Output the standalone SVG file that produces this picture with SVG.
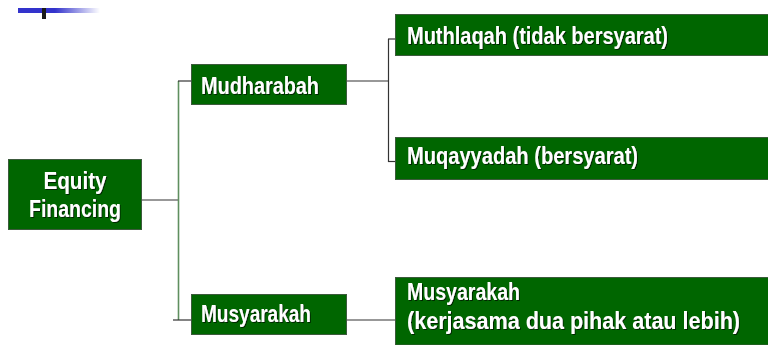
<svg xmlns="http://www.w3.org/2000/svg" width="768" height="345" viewBox="0 0 768 345">
  <defs>
    <linearGradient id="barFade" x1="0" y1="0" x2="1" y2="0">
      <stop offset="0" stop-color="#3333cc"/>
      <stop offset="0.45" stop-color="#3333cc"/>
      <stop offset="1" stop-color="#3333cc" stop-opacity="0"/>
    </linearGradient>
    <filter id="shade" x="-5%" y="-20%" width="110%" height="140%">
      <feDropShadow dx="1" dy="1" stdDeviation="0.3" flood-color="#001a00" flood-opacity="0.9"/>
    </filter>
  </defs>
  <style>
    .box { fill: #006600; stroke: #3c5a3c; stroke-width: 1; }
    .lbl { font-family: "Liberation Sans", Arial, sans-serif; font-weight: bold; font-size: 24px; fill: #ffffff; filter: url(#shade); }
    .h { stroke: #333333; stroke-width: 1.2; fill: none; }
    .v { stroke: #5f8f5f; stroke-width: 1.6; fill: none; }
  </style>

  <rect width="768" height="345" fill="#ffffff"/>

  <!-- title ornament -->
  <rect x="18" y="8" width="82" height="5" fill="url(#barFade)"/>
  <rect x="42" y="8" width="4" height="11" fill="#1a1a1a"/>

  <g id="connectors">
    <line class="h" x1="142" y1="200" x2="179" y2="200"/>
    <line class="v" x1="178.5" y1="81" x2="178.5" y2="320"/>
    <line class="h" x1="178" y1="81" x2="191" y2="81"/>
    <line class="h" x1="173" y1="320" x2="191" y2="320"/>
    <line class="h" x1="347" y1="81" x2="389" y2="81"/>
    <line class="h" x1="388.5" y1="39" x2="388.5" y2="162"/>
    <line class="h" x1="388" y1="39" x2="396" y2="39"/>
    <line class="h" x1="388" y1="161.5" x2="396" y2="161.5"/>
    <line class="h" x1="347" y1="320" x2="396" y2="320"/>
  </g>

  <g id="equity-financing">
    <rect class="box" x="8.5" y="159.5" width="133" height="70"/>
    <text class="lbl" x="75" y="189" text-anchor="middle" textLength="63" lengthAdjust="spacingAndGlyphs">Equity</text>
    <text class="lbl" x="75" y="217" text-anchor="middle" textLength="92" lengthAdjust="spacingAndGlyphs">Financing</text>
  </g>

  <g id="mudharabah">
    <rect class="box" x="191.5" y="64.5" width="155" height="40"/>
    <text class="lbl" x="201" y="94" textLength="118" lengthAdjust="spacingAndGlyphs">Mudharabah</text>
  </g>

  <g id="musyarakah">
    <rect class="box" x="191.5" y="294.5" width="155" height="40"/>
    <text class="lbl" x="201" y="322" textLength="110" lengthAdjust="spacingAndGlyphs">Musyarakah</text>
  </g>

  <g id="muthlaqah">
    <rect class="box" x="395.5" y="14.5" width="380" height="41"/>
    <text class="lbl" x="407" y="44" textLength="261" lengthAdjust="spacingAndGlyphs">Muthlaqah (tidak bersyarat)</text>
  </g>

  <g id="muqayyadah">
    <rect class="box" x="395.5" y="137.5" width="380" height="42"/>
    <text class="lbl" x="407" y="164" textLength="231" lengthAdjust="spacingAndGlyphs">Muqayyadah (bersyarat)</text>
  </g>

  <g id="musyarakah-detail">
    <rect class="box" x="395.5" y="277.5" width="380" height="67.5"/>
    <text class="lbl" x="407" y="300" textLength="113" lengthAdjust="spacingAndGlyphs">Musyarakah</text>
    <text class="lbl" x="407" y="329" textLength="333" lengthAdjust="spacingAndGlyphs">(kerjasama dua pihak atau lebih)</text>
  </g>
</svg>
